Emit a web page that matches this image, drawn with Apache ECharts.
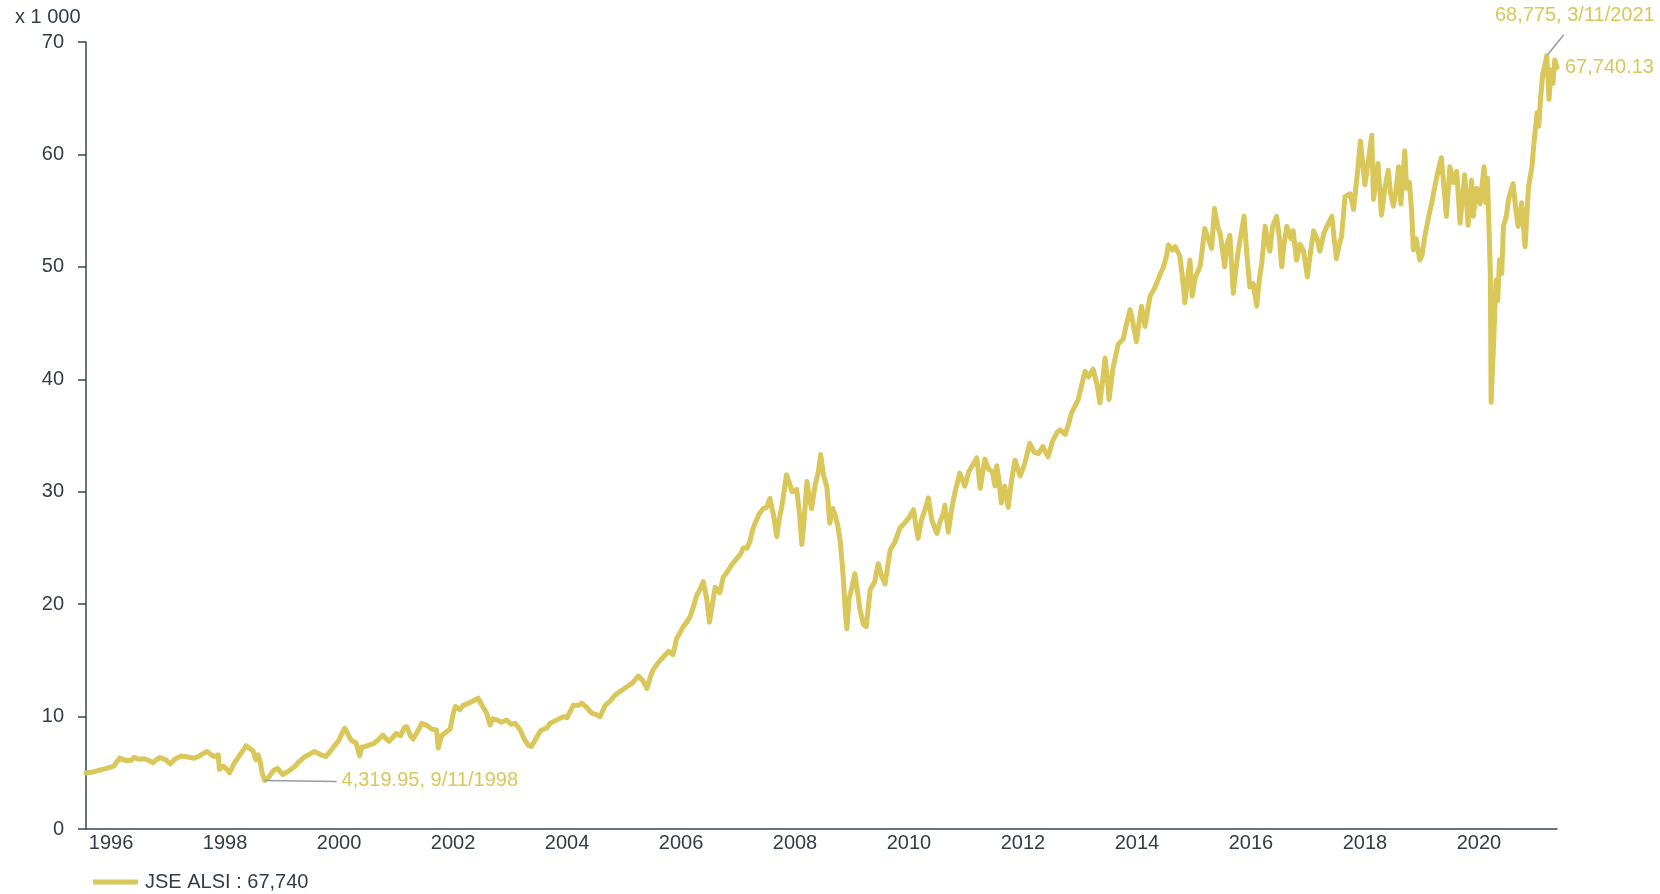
<!DOCTYPE html>
<html>
<head>
<meta charset="utf-8">
<script src="https://cdn.jsdelivr.net/npm/echarts@6/dist/echarts.min.js"></script>
<style>
html,body{margin:0;padding:0;background:#ffffff;}
#c{width:1660px;height:894px;}
</style>
</head>
<body>
<div id="c"></div>
<script>
// ---------------- data ----------------
const seriesName = 'JSE ALSI';
const legendValue = '67,740';
const yAxisUnit = 'x 1 000';
const yearLabels = [1996, 1998, 2000, 2002, 2004, 2006, 2008, 2010, 2012, 2014, 2016, 2018, 2020];
const xRange = [1995.56, 2021.37];          // decimal years
const yRange = [0, 70000];
const minAnn = { date: '9/11/1998', value: 4319.95, text: '4,319.95, 9/11/1998' };
const maxAnn = { date: '3/11/2021', value: 68775, text: '68,775, 3/11/2021' };
const lastText = '67,740.13';

// [decimal year, index level]
const alsi = [
  [1995.56,4980],[1995.70,5100],[1995.85,5300],[1996.00,5500],[1996.05,5600],[1996.15,6300],[1996.25,6100],
  [1996.35,6100],[1996.40,6360],[1996.50,6200],[1996.58,6250],[1996.66,6100],[1996.73,5900],[1996.85,6360],
  [1996.95,6200],[1997.04,5800],[1997.12,6200],[1997.23,6500],[1997.35,6400],[1997.46,6300],[1997.55,6500],
  [1997.68,6900],[1997.76,6600],[1997.81,6450],[1997.88,6600],[1997.90,5300],[1997.97,5600],[1998.03,5300],
  [1998.08,5000],[1998.16,5850],[1998.25,6500],[1998.37,7400],[1998.45,7100],[1998.49,6950],[1998.54,6150],
  [1998.58,6600],[1998.62,5900],[1998.65,5000],[1998.693,4319.95],[1998.75,4500],[1998.85,5200],[1998.92,5400],
  [1999.01,4850],[1999.10,5100],[1999.22,5550],[1999.30,6000],[1999.39,6400],[1999.50,6700],[1999.57,6900],
  [1999.68,6600],[1999.77,6450],[1999.86,7000],[1999.95,7600],[2000.00,7900],[2000.05,8500],[2000.10,8960],
  [2000.16,8400],[2000.21,7900],[2000.30,7650],[2000.36,6500],[2000.40,7300],[2000.44,7300],[2000.55,7500],
  [2000.62,7650],[2000.70,8000],[2000.77,8350],[2000.83,8000],[2000.88,7800],[2000.95,8200],[2001.00,8500],
  [2001.08,8300],[2001.15,9050],[2001.19,9100],[2001.25,8300],[2001.30,8000],[2001.37,8600],[2001.45,9400],
  [2001.55,9200],[2001.62,8900],[2001.71,8800],[2001.74,7200],[2001.80,8300],[2001.87,8600],[2001.95,8900],
  [2002.00,10200],[2002.04,10900],[2002.12,10600],[2002.18,11000],[2002.28,11200],[2002.36,11400],[2002.44,11650],
  [2002.52,10900],[2002.59,10300],[2002.65,9250],[2002.70,9800],[2002.77,9700],[2002.85,9500],[2002.94,9700],
  [2003.02,9300],[2003.09,9400],[2003.18,8800],[2003.26,7900],[2003.33,7400],[2003.38,7350],[2003.45,8000],
  [2003.53,8700],[2003.58,8850],[2003.65,9000],[2003.70,9400],[2003.76,9550],[2003.88,9850],[2003.95,10000],
  [2004.00,9900],[2004.06,10500],[2004.11,11000],[2004.20,11000],[2004.26,11200],[2004.35,10800],[2004.43,10300],
  [2004.50,10200],[2004.58,10000],[2004.67,11000],[2004.76,11400],[2004.84,11900],[2004.95,12300],[2005.05,12650],
  [2005.15,13000],[2005.25,13600],[2005.33,13200],[2005.40,12500],[2005.46,13500],[2005.51,14150],[2005.60,14800],
  [2005.69,15300],[2005.78,15800],[2005.86,15500],[2005.92,16900],[2006.04,18000],[2006.10,18400],[2006.16,18900],
  [2006.22,19800],[2006.27,20700],[2006.35,21500],[2006.39,22000],[2006.45,20500],[2006.50,18400],[2006.55,20000],
  [2006.60,21500],[2006.68,21000],[2006.74,22400],[2006.80,22800],[2006.89,23500],[2006.97,24000],[2007.05,24500],
  [2007.09,25000],[2007.16,25000],[2007.21,25600],[2007.25,26500],[2007.30,27200],[2007.37,28000],[2007.44,28500],
  [2007.50,28600],[2007.56,29400],[2007.62,28000],[2007.68,26000],[2007.72,27500],[2007.77,28700],[2007.85,31500],
  [2007.90,30800],[2007.95,30000],[2008.03,30200],[2008.08,28000],[2008.12,25300],[2008.16,27500],[2008.21,30900],
  [2008.25,29500],[2008.29,28500],[2008.35,30500],[2008.41,31800],[2008.45,33300],[2008.50,31500],[2008.56,30400],
  [2008.61,27200],[2008.66,28500],[2008.70,28000],[2008.75,27000],[2008.79,25700],[2008.83,23500],[2008.85,22100],
  [2008.88,19500],[2008.91,17800],[2008.95,20500],[2009.00,21500],[2009.05,22700],[2009.10,21000],[2009.14,19500],
  [2009.20,18200],[2009.25,18000],[2009.32,21300],[2009.40,22000],[2009.46,23600],[2009.52,22500],[2009.58,21800],
  [2009.67,24800],[2009.75,25500],[2009.84,26750],[2009.92,27200],[2010.00,27700],[2010.08,28400],[2010.12,27000],
  [2010.16,25850],[2010.22,27500],[2010.30,28700],[2010.34,29450],[2010.40,27500],[2010.45,26800],[2010.49,26300],
  [2010.55,27400],[2010.60,28000],[2010.63,28800],[2010.69,26400],[2010.75,28500],[2010.80,29800],[2010.85,30800],
  [2010.89,31650],[2010.98,30500],[2011.05,31800],[2011.12,32400],[2011.19,33000],[2011.25,30300],[2011.33,32900],
  [2011.40,32000],[2011.46,31800],[2011.51,30500],[2011.54,32300],[2011.58,31000],[2011.62,29000],[2011.68,30500],
  [2011.74,28600],[2011.80,31000],[2011.86,32800],[2011.95,31400],[2012.03,32500],[2012.12,34300],[2012.20,33500],
  [2012.27,33400],[2012.35,34000],[2012.44,33100],[2012.52,34500],[2012.60,35300],[2012.65,35500],[2012.74,35100],
  [2012.80,36000],[2012.85,37000],[2012.97,38200],[2013.03,39500],[2013.09,40700],[2013.15,40200],[2013.23,40900],
  [2013.30,39500],[2013.35,37900],[2013.40,40000],[2013.44,41900],[2013.48,40000],[2013.51,38200],[2013.58,41000],
  [2013.67,43100],[2013.76,43600],[2013.82,45000],[2013.88,46200],[2013.93,45000],[2013.99,43350],[2014.05,45500],
  [2014.08,46500],[2014.14,44700],[2014.23,47400],[2014.30,48000],[2014.35,48600],[2014.42,49500],[2014.46,49900],
  [2014.52,51000],[2014.55,51950],[2014.62,51500],[2014.67,51800],[2014.75,51000],[2014.80,49000],[2014.84,46800],
  [2014.90,49500],[2014.93,50600],[2014.97,47400],[2015.02,49000],[2015.11,50100],[2015.19,53400],[2015.25,52500],
  [2015.31,51650],[2015.36,55200],[2015.42,53500],[2015.46,53000],[2015.54,50000],[2015.58,52000],[2015.63,52800],
  [2015.69,47650],[2015.74,50000],[2015.78,51500],[2015.83,53000],[2015.88,54500],[2015.93,51000],[2015.98,48200],
  [2016.04,48500],[2016.10,46500],[2016.15,49000],[2016.19,50300],[2016.25,53600],[2016.30,52000],[2016.33,51400],
  [2016.38,53600],[2016.45,54500],[2016.50,52500],[2016.54,50000],[2016.58,52000],[2016.63,53600],[2016.70,52500],
  [2016.74,53200],[2016.80,50600],[2016.86,52000],[2016.92,51500],[2016.99,49100],[2017.05,51500],[2017.10,53200],
  [2017.16,52500],[2017.21,51400],[2017.28,53000],[2017.36,53900],[2017.42,54500],[2017.46,52500],[2017.50,50750],
  [2017.55,52000],[2017.59,52700],[2017.65,56250],[2017.74,56500],[2017.80,55100],[2017.88,58900],[2017.92,61200],
  [2018.00,57300],[2018.06,59500],[2018.12,61700],[2018.15,56000],[2018.20,58000],[2018.23,59200],[2018.29,54600],
  [2018.35,57000],[2018.41,58600],[2018.45,56500],[2018.50,55400],[2018.55,57000],[2018.59,58900],[2018.63,55600],
  [2018.70,60300],[2018.73,57000],[2018.78,57500],[2018.82,54900],[2018.85,51500],[2018.90,52500],[2018.96,50600],
  [2019.00,51000],[2019.05,52700],[2019.12,54500],[2019.17,55650],[2019.26,58000],[2019.34,59700],[2019.38,57500],
  [2019.43,54500],[2019.49,58900],[2019.55,57500],[2019.61,58500],[2019.67,53900],[2019.75,58200],[2019.81,53700],
  [2019.87,57700],[2019.90,54500],[2019.96,57000],[2020.02,55600],[2020.09,58900],[2020.12,55700],[2020.15,57900],
  [2020.18,53000],[2020.20,49400],[2020.214,37960],[2020.26,43500],[2020.30,48800],[2020.33,47000],[2020.36,50600],
  [2020.40,49400],[2020.43,53600],[2020.48,54500],[2020.52,56000],[2020.60,57400],[2020.65,55000],[2020.69,53600],
  [2020.75,55700],[2020.81,51800],[2020.87,57100],[2020.93,58900],[2020.96,60700],[2021.02,63700],[2021.05,62500],
  [2021.08,64900],[2021.12,67200],[2021.16,68000],[2021.189,68775],[2021.23,64900],[2021.27,67500],[2021.30,66300],
  [2021.33,68400],[2021.37,67740.13]
];

// ---------------- helpers ----------------
function decYear(mdy) {
  const p = mdy.split('/').map(Number);
  const start = Date.UTC(p[2], 0, 1), end = Date.UTC(p[2] + 1, 0, 1);
  return p[2] + (Date.UTC(p[2], p[0] - 1, p[1]) - start) / (end - start);
}

const GOLD = '#d9c75a';
const TEXT = '#333d47';
const AXIS = '#3a4550';
const FONT = '"Liberation Sans", Arial, sans-serif';
const FS = 20;

const chart = echarts.init(document.getElementById('c'), null, { renderer: 'canvas' });

chart.setOption({
  animation: false,
  backgroundColor: '#ffffff',
  textStyle: { fontFamily: FONT },
  title: {
    text: yAxisUnit, left: 10, top: 2,
    textStyle: { fontSize: FS, fontWeight: 'normal', color: TEXT, fontFamily: FONT }
  },
  grid: { left: 86, right: 103, top: 42, bottom: 65, containLabel: false },
  legend: {
    left: 88, top: 867,
    icon: 'rect', itemWidth: 45, itemHeight: 5, itemGap: 10,
    data: [seriesName],
    formatter: () => seriesName + ' : ' + legendValue,
    textStyle: { fontSize: FS, color: TEXT, fontFamily: FONT, padding: [0, 0, 0, 2] }
  },
  xAxis: {
    type: 'value',
    min: xRange[0], max: xRange[1],
    splitLine: { show: false },
    axisLine: { show: true, lineStyle: { color: AXIS, width: 1.5 } },
    axisTick: { show: false },
    axisLabel: {
      customValues: yearLabels,
      formatter: v => String(Math.round(v)),
      fontSize: FS, color: TEXT, fontFamily: FONT, margin: 4
    }
  },
  yAxis: {
    type: 'value',
    min: yRange[0], max: yRange[1], interval: 10000,
    splitLine: { show: false },
    axisLine: { show: true, lineStyle: { color: AXIS, width: 1.5 } },
    axisTick: { show: true, length: 8, lineStyle: { color: AXIS, width: 1.5 } },
    axisLabel: {
      formatter: v => String(v / 1000),
      fontSize: FS, color: TEXT, fontFamily: FONT, margin: 22
    }
  },
  series: [{
    name: seriesName,
    type: 'line',
    data: alsi,
    showSymbol: false,
    symbol: 'none',
    lineStyle: { color: GOLD, width: 5, join: 'round', cap: 'round' },
    itemStyle: { color: GOLD },
    endLabel: {
      show: true, formatter: lastText, distance: 8,
      fontSize: FS, color: GOLD, fontFamily: FONT
    }
  }]
});

// annotations anchored on library scale
const pMin = chart.convertToPixel({ gridIndex: 0 }, [decYear(minAnn.date), minAnn.value]);
const pMax = chart.convertToPixel({ gridIndex: 0 }, [decYear(maxAnn.date), maxAnn.value]);
chart.setOption({
  graphic: [
    { type: 'line', shape: { x1: pMin[0], y1: pMin[1], x2: pMin[0] + 72, y2: pMin[1] + 1 },
      style: { stroke: '#9a9a9a', lineWidth: 1.5 }, z: 10 },
    { type: 'text', x: pMin[0] + 77, y: pMin[1],
      style: { text: minAnn.text, fill: GOLD, font: FS + 'px ' + FONT, textAlign: 'left', textVerticalAlign: 'middle' }, z: 10 },
    { type: 'line', shape: { x1: pMax[0] + 1, y1: pMax[1] - 1, x2: pMax[0] + 17, y2: pMax[1] - 21 },
      style: { stroke: '#9a9a9a', lineWidth: 1.5 }, z: 10 },
    { type: 'text', x: pMax[0] + 108, y: pMax[1] - 40,
      style: { text: maxAnn.text, fill: GOLD, font: FS + 'px ' + FONT, textAlign: 'right', textVerticalAlign: 'middle' }, z: 10 }
  ]
});
</script>
</body>
</html>
